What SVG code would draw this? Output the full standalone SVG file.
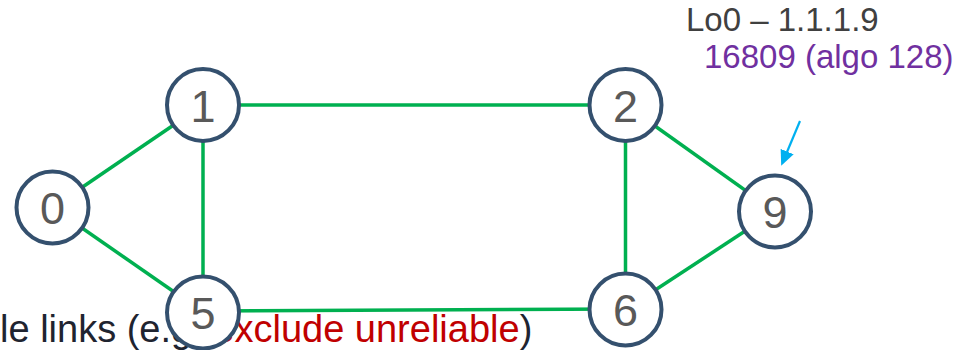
<svg xmlns="http://www.w3.org/2000/svg" width="969" height="350" viewBox="0 0 969 350">
<style>
.edge{stroke:#00b050;stroke-width:3.5;fill:none}
.node circle{fill:#ffffff;stroke:#34506e;stroke-width:4}
.node text{font-family:"Liberation Sans",Arial,sans-serif;font-size:45px;fill:#595959;text-anchor:middle}
.lbl{font-family:"Liberation Sans",Arial,sans-serif}
</style>
<defs>
<marker id="ah" markerWidth="7" markerHeight="6.4" refX="0.2" refY="3.2" orient="auto" markerUnits="strokeWidth">
<path d="M0,0 L7,3.2 L0,6.4 Z" fill="#00b0f0"/>
</marker>
</defs>
<rect width="969" height="350" fill="#ffffff"/>
<text class="lbl" x="0" y="342" font-size="38" fill="#1f2430">le links (e.g. <tspan fill="#c00000">exclude unreliable</tspan>)</text>
<g id="connectors">
<line class="edge" x1="52.5" y1="207.5" x2="203" y2="105"/>
<line class="edge" x1="52.5" y1="207.5" x2="203" y2="312"/>
<line class="edge" x1="203" y1="105" x2="203" y2="312"/>
<line class="edge" x1="203" y1="105" x2="625.5" y2="105"/>
<line class="edge" x1="203" y1="311" x2="625.5" y2="309"/>
<line class="edge" x1="625.5" y1="105" x2="625.5" y2="309.5"/>
<line class="edge" x1="625.5" y1="105" x2="775" y2="211.5"/>
<line class="edge" x1="625.5" y1="309.5" x2="775" y2="211.5"/>
<line x1="800" y1="121" x2="787" y2="152" stroke="#00b0f0" stroke-width="2.2" marker-end="url(#ah)"/>
</g>
<g id="node0" class="node"><circle cx="52.5" cy="207.5" r="36"/><text x="52.5" y="223.5">0</text></g>
<g id="node1" class="node"><circle cx="203" cy="105" r="36"/><text x="203" y="122">1</text></g>
<g id="node5" class="node"><circle cx="203" cy="312.5" r="36"/><text x="203" y="328.5">5</text></g>
<g id="node2" class="node"><circle cx="625.5" cy="105" r="36"/><text x="625.5" y="121.5">2</text></g>
<g id="node6" class="node"><circle cx="625.5" cy="309.5" r="36"/><text x="625.5" y="326">6</text></g>
<g id="node9" class="node"><circle cx="775" cy="211.5" r="36"/><text x="775" y="228">9</text></g>
<text class="lbl" x="686" y="31" font-size="33" fill="#404040">Lo0 – 1.1.1.9</text>
<text class="lbl" x="704" y="68" font-size="33" fill="#7030a0">16809 (algo 128)</text>
</svg>
